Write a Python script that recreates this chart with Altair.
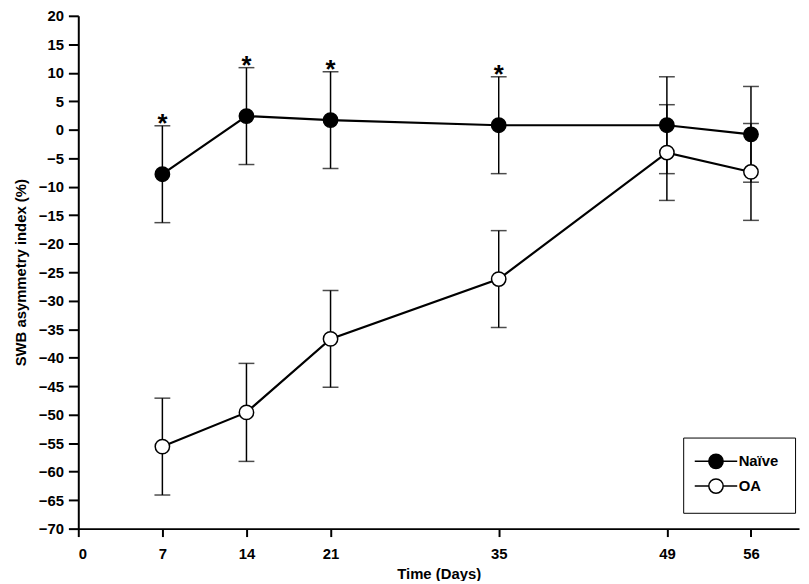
import altair as alt
import pandas as pd

days = [7, 14, 21, 35, 49, 56]
naive_mean = [-7.8, 2.4, 1.7, 0.8, 0.8, -0.8]
naive_sd = [8.5, 8.5, 8.5, 8.5, 8.5, 8.4]
oa_mean = [-55.6, -49.6, -36.7, -26.2, -4.0, -7.4]
oa_sd = [8.5, 8.6, 8.5, 8.5, 8.4, 8.5]
star_days = [7, 14, 21, 35]
groups = ["Naïve", "OA"]
x_ticks = [0, 7, 14, 21, 35, 49, 56]
y_ticks = list(range(-70, 25, 5))

rows = []
for d, m, s in zip(days, naive_mean, naive_sd):
    rows.append({"day": d, "group": "Naïve", "mean": m, "sd": s, "star": "*" if d in star_days else ""})
for d, m, s in zip(days, oa_mean, oa_sd):
    rows.append({"day": d, "group": "OA", "mean": m, "sd": s, "star": ""})
df = pd.DataFrame(rows)

FONT = "Liberation Sans"

x = alt.X("day:Q", scale=alt.Scale(domain=[0, 60], nice=False),
          axis=alt.Axis(values=x_ticks, title="Time (Days)", tickSize=8, labelPadding=10,
                        titlePadding=5))
y_axis = alt.Axis(values=y_ticks, title="SWB asymmetry index (%)", tickSize=10, labelPadding=5,
                  titlePadding=10)
yscale = alt.Scale(domain=[-70, 20], nice=False)


def Y(field):
    return alt.Y(field, scale=yscale, axis=y_axis)


base = alt.Chart(df).transform_calculate(
    hi="datum.mean + datum.sd", lo="datum.mean - datum.sd"
)

err = base.mark_rule(color="black", strokeWidth=1.5).encode(
    x=x, y=Y("lo:Q"), y2="hi:Q", detail="group:N"
)
cap_hi = base.mark_tick(color="black", thickness=1.5, size=16, orient="horizontal").encode(
    x=x, y=Y("hi:Q")
)
cap_lo = base.mark_tick(color="black", thickness=1.5, size=16, orient="horizontal").encode(
    x=x, y=Y("lo:Q")
)
lines = base.mark_line(color="black", strokeWidth=2.2).encode(
    x=x, y=Y("mean:Q"), detail="group:N"
)
legend_path = ("M-1.7,0L0.26,0M2.26,0L4.22,0"
               "M0.26,0A1,1,0,1,1,2.26,0A1,1,0,1,1,0.26,0Z")
points = base.mark_point(shape="circle", filled=True, size=210, stroke="black",
                         strokeWidth=1.5, opacity=1).encode(
    x=x, y=Y("mean:Q"),
    fill=alt.Fill("group:N", scale=alt.Scale(domain=groups, range=["black", "white"]),
                  legend=alt.Legend(title=None, orient="none", legendX=611, legendY=426,
                                    symbolType=legend_path, symbolSize=210,
                                    symbolStrokeColor="black", symbolStrokeWidth=1.5,
                                    labelFont=FONT, labelFontSize=15, labelFontWeight="bold",
                                    labelColor="black", strokeColor="black", padding=16,
                                    rowPadding=3, labelOffset=24, fillColor="white")),
)
stars = base.transform_filter("datum.star != ''").mark_text(
    font=FONT, fontSize=26, fontWeight="bold", color="black", baseline="alphabetic", dy=6
).encode(x=x, y=Y("hi:Q"), text="star:N")

chart = alt.layer(err, cap_hi, cap_lo, lines, points, stars).properties(
    width=728, height=518,
    autosize=alt.AutoSizeParams(type="none"),
    padding={"left": 71, "top": 5, "right": 2, "bottom": 50},
    background="white",
).configure_view(stroke=None).configure_axis(
    grid=False, domainColor="black", domainWidth=2, tickColor="black", tickWidth=2,
    labelFont=FONT, labelFontSize=15, labelFontWeight="bold", labelColor="black",
    titleFont=FONT, titleFontSize=15, titleFontWeight="bold", titleColor="black",
)

chart.save("out.html", embed_options={"renderer": "svg", "actions": False})
